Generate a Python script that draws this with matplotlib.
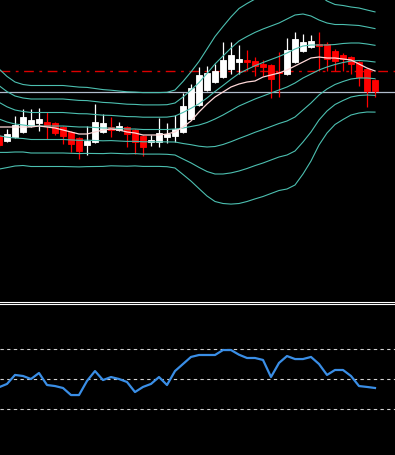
import numpy as np
import matplotlib
matplotlib.use("Agg")
import matplotlib.pyplot as plt
from matplotlib.lines import Line2D

# OHLC (arbitrary price units)
opens = [163, 158, 162, 167, 173, 176, 177, 176, 172, 167, 161, 154, 157, 167, 172, 169, 172, 169, 163, 157,
         157, 162, 163, 167, 180, 194, 209, 217, 222, 230, 237, 239, 238, 235, 234, 227, 225, 237, 248, 252,
         255, 255, 248, 244, 242, 237, 230, 219]
highs = [165, 170, 183, 190, 190, 191, 187, 177, 173, 168, 162, 173, 195, 185, 182, 177, 173, 170, 164, 164,
         181, 176, 184, 206, 215, 232, 233, 235, 257, 257, 254, 249, 242, 239, 235, 247, 261, 267, 265, 264,
         267, 257, 250, 246, 243, 238, 231, 220]
lows = [152, 157, 161, 166, 172, 168, 160, 164, 155, 147, 140, 144, 156, 166, 162, 168, 152, 145, 143, 153,
        152, 156, 157, 166, 179, 193, 208, 216, 221, 225, 225, 228, 223, 223, 201, 202, 224, 236, 247, 251,
        228, 228, 228, 228, 225, 213, 192, 202]
closes = [154, 165, 174, 182, 179, 180, 173, 166, 163, 155, 148, 158, 177, 176, 169, 173, 165, 157, 152, 159,
          166, 165, 170, 193, 211, 224, 226, 228, 239, 244, 240, 237, 233, 232, 220, 226, 249, 260, 257, 258,
          253, 240, 238, 240, 235, 222, 208, 208]

# band centre and band step (one deviation)
band_mid = [180, 177, 175, 174, 173, 173, 173, 173, 173, 172.5, 172, 172, 171.5, 171, 171, 170.5, 170, 170, 169.5, 169.5,
            169.5, 169.5, 170, 171, 172.5, 174, 176.5, 180, 184, 188.5, 193, 196.5, 200, 203, 206, 209, 212, 216, 221, 225,
            229, 232, 234.5, 236.5, 238, 238.5, 238, 237]
band_dev = [16.7, 15.2, 14, 13.5, 13.5, 13.5, 13.5, 13.5, 13.5, 13.4, 13.3, 13.2, 13, 12.8, 12.6, 12.5, 12.4, 12.3, 12.3, 12.3,
            12.3, 12.4, 13, 15.5, 18.2, 21.2, 24.5, 27.5, 29.5, 31.2, 32.5, 33, 33.3, 33.5, 33.5, 33.5, 34, 34, 32, 29,
            25, 22, 20, 19, 18, 17.5, 17, 16.7]
band_steps = [-3, -2, -1, 0, 1, 2, 3]

# pink moving average
ma_line = [172, 172, 172, 172, 172, 173, 172, 171, 169, 167, 165, 165, 167, 169, 170, 169, 167, 166, 164, 164,
           164, 165, 167, 172, 178, 187, 195, 202, 207, 212, 215, 217, 218, 222, 224, 226, 229, 233, 237, 241,
           242, 241, 241, 240, 239, 235, 231, 228]

# lower panel oscillator
rsi = [44.5, 46.7, 52.7, 52, 50, 54, 46, 45.3, 44, 39.3, 39.3, 48.7, 55.3, 49.3, 51.3, 50, 48, 41.3, 44.7, 46.7,
       51.3, 46, 55.3, 60, 64.7, 66, 66, 66, 69.3, 69.3, 66.2, 64, 64, 62.7, 51.3, 60.7, 65.3, 63.3, 63.3, 64.7,
       60, 52.7, 56, 56, 52, 45.3, 44.7, 44]
rsi_levels = [70, 50, 30]

level_gray = 206.7
level_red = 228

W, H = 395, 456
fig = plt.figure(figsize=(W / 100, H / 100), dpi=100, facecolor="black")
ax = fig.add_axes([0, 1 - 300 / H, 1, 300 / H], facecolor="black")
ax2 = fig.add_axes([0, 0, 1, 150 / H], facecolor="black")

x = np.arange(1, len(opens) + 1)
o, h, l, c = map(np.array, (opens, highs, lows, closes))
up = c >= o
cols = np.where(up, "#ffffff", "#ff0000")

ax.vlines(x, l, h, colors=cols, lw=0.9, zorder=2)
body_lo = np.minimum(o, c)
body_h = np.maximum(np.abs(c - o), 1.5)
ax.bar(x, body_h, bottom=body_lo, width=0.68, color=cols, edgecolor=cols, lw=0.6, zorder=3)

mid = np.array(band_mid)
dev = np.array(band_dev)
for k in band_steps:
    ax.plot(x, mid + k * dev, color="#4cbfb0", lw=0.8, zorder=4)
ax.plot(x, ma_line, color="#ffd8d8", lw=0.9, zorder=5)

ax.axhline(level_gray, color="#b0bccc", lw=0.9, zorder=1)
ax.axhline(level_red, color="#dd0000", lw=1.0, ls=(0, (7, 4, 2, 4)), zorder=1)

ax.set_xlim(1.125, 50.5)
ax.set_ylim(0, 300)
ax.axis("off")

for lev in rsi_levels:
    ax2.axhline(lev, color="#d0d0d0", lw=0.8, ls=(0, (3, 3)))
ax2.plot(x, rsi, color="#3a8ee6", lw=1.6)
ax2.set_xlim(1.125, 50.5)
ax2.set_ylim(-0.67, 99.33)
ax2.axis("off")

# double separator between panels
for yp in (302.5, 304.5):
    fig.add_artist(Line2D([0, 1], [1 - yp / H, 1 - yp / H], transform=fig.transFigure, color="white", lw=0.8))

fig.savefig("out.png", dpi=100, facecolor="black")
